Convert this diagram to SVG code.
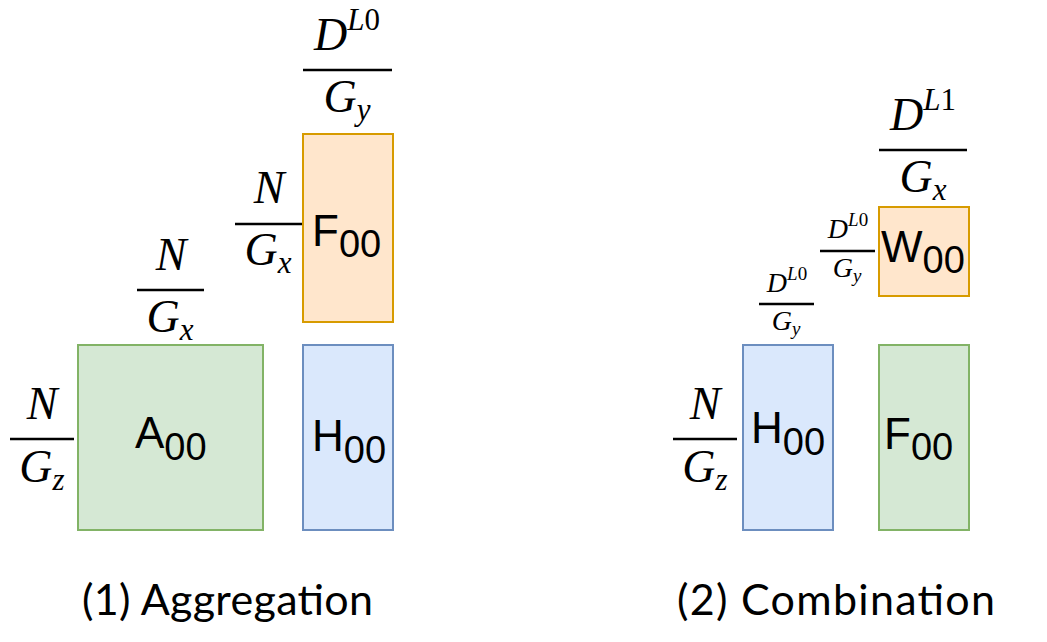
<svg xmlns="http://www.w3.org/2000/svg" width="1047" height="642" viewBox="0 0 1047 642">
<style>
.green{fill:#d5e8d4;stroke:#82b366;stroke-width:2}
.blue{fill:#dae8fc;stroke:#6c8ebf;stroke-width:2}
.orange{fill:#ffe6cc;stroke:#d79b00;stroke-width:2}
.lbl{font-family:"Liberation Sans",Arial,sans-serif;font-size:44px;fill:#000}
.sub{font-size:38px}
.m{font-family:"Liberation Serif","Times New Roman",serif;font-style:italic;fill:#000;text-anchor:middle}
.big{font-size:46px}
.small{font-size:28px}
.up{font-style:normal}
.bar{stroke:#000;stroke-width:2.5}
.title{font-family:Lato,"Open Sans",sans-serif;font-size:43px;fill:#000}
</style>
<rect width="1047" height="642" fill="#fff"/>
<g id="connectors"/>
<!-- Left: Aggregation -->
<g id="A00">
<rect class="green" x="78" y="345" width="185" height="185"/>
<text class="lbl" x="135" y="448">A<tspan class="sub" dy="12">00</tspan></text>
</g>
<g id="H00-left">
<rect class="blue" x="303" y="345" width="90" height="185"/>
<text class="lbl" x="312" y="451">H<tspan class="sub" dy="12">00</tspan></text>
</g>
<g id="F00-left">
<rect class="orange" x="303" y="134" width="90" height="188"/>
<text class="lbl" x="312" y="246">F<tspan class="sub" dy="11">00</tspan></text>
</g>
<g id="frac-DL0-Gy-top">
<text class="m big" x="347" y="50">D<tspan font-size="31" dy="-20">L</tspan><tspan font-size="31" class="up">0</tspan></text>
<line class="bar" x1="303" y1="70" x2="392" y2="70"/>
<text class="m big" x="347" y="112">G<tspan font-size="31" dy="8">y</tspan></text>
</g>
<g id="frac-N-Gx-F">
<text class="m big" x="269" y="203">N</text>
<line class="bar" x1="235" y1="224" x2="302" y2="224"/>
<text class="m big" x="268" y="265">G<tspan font-size="31" dy="8">x</tspan></text>
</g>
<g id="frac-N-Gx-A">
<text class="m big" x="171" y="270">N</text>
<line class="bar" x1="137" y1="290" x2="204" y2="290"/>
<text class="m big" x="170" y="332">G<tspan font-size="31" dy="8">x</tspan></text>
</g>
<g id="frac-N-Gz-A">
<text class="m big" x="42" y="419">N</text>
<line class="bar" x1="10" y1="439" x2="74" y2="439"/>
<text class="m big" x="42" y="482">G<tspan font-size="31" dy="8">z</tspan></text>
</g>
<text class="title" x="82" y="615" textLength="291" lengthAdjust="spacing">(1) Aggregation</text>
<!-- Right: Combination -->
<g id="W00">
<rect class="orange" x="879" y="207" width="90" height="89"/>
<text class="lbl" x="881" y="262">W<tspan class="sub" dy="11">00</tspan></text>
</g>
<g id="H00-right">
<rect class="blue" x="743" y="345" width="90" height="185"/>
<text class="lbl" x="751" y="443">H<tspan class="sub" dy="12">00</tspan></text>
</g>
<g id="F00-right">
<rect class="green" x="879" y="345" width="90" height="185"/>
<text class="lbl" x="884" y="449">F<tspan class="sub" dy="11">00</tspan></text>
</g>
<g id="frac-DL1-Gx">
<text class="m big" x="923" y="130">D<tspan font-size="31" dy="-20">L</tspan><tspan font-size="31" class="up">1</tspan></text>
<line class="bar" x1="879" y1="150" x2="967" y2="150"/>
<text class="m big" x="923" y="192">G<tspan font-size="31" dy="8">x</tspan></text>
</g>
<g id="frac-DL0-Gy-W">
<text class="m small" x="848" y="238">D<tspan font-size="19" dy="-12">L</tspan><tspan font-size="19" class="up">0</tspan></text>
<line class="bar" x1="820" y1="251" x2="875" y2="251" stroke-width="2"/>
<text class="m small" x="847" y="277">G<tspan font-size="19" dy="5">y</tspan></text>
</g>
<g id="frac-DL0-Gy-H">
<text class="m small" x="787" y="292">D<tspan font-size="19" dy="-12">L</tspan><tspan font-size="19" class="up">0</tspan></text>
<line class="bar" x1="759" y1="304" x2="814" y2="304" stroke-width="2"/>
<text class="m small" x="786" y="330">G<tspan font-size="19" dy="5">y</tspan></text>
</g>
<g id="frac-N-Gz-H">
<text class="m big" x="705" y="419">N</text>
<line class="bar" x1="673" y1="439" x2="737" y2="439"/>
<text class="m big" x="705" y="482">G<tspan font-size="31" dy="8">z</tspan></text>
</g>
<text class="title" x="677" y="615" textLength="318" lengthAdjust="spacing">(2) Combination</text>
</svg>
